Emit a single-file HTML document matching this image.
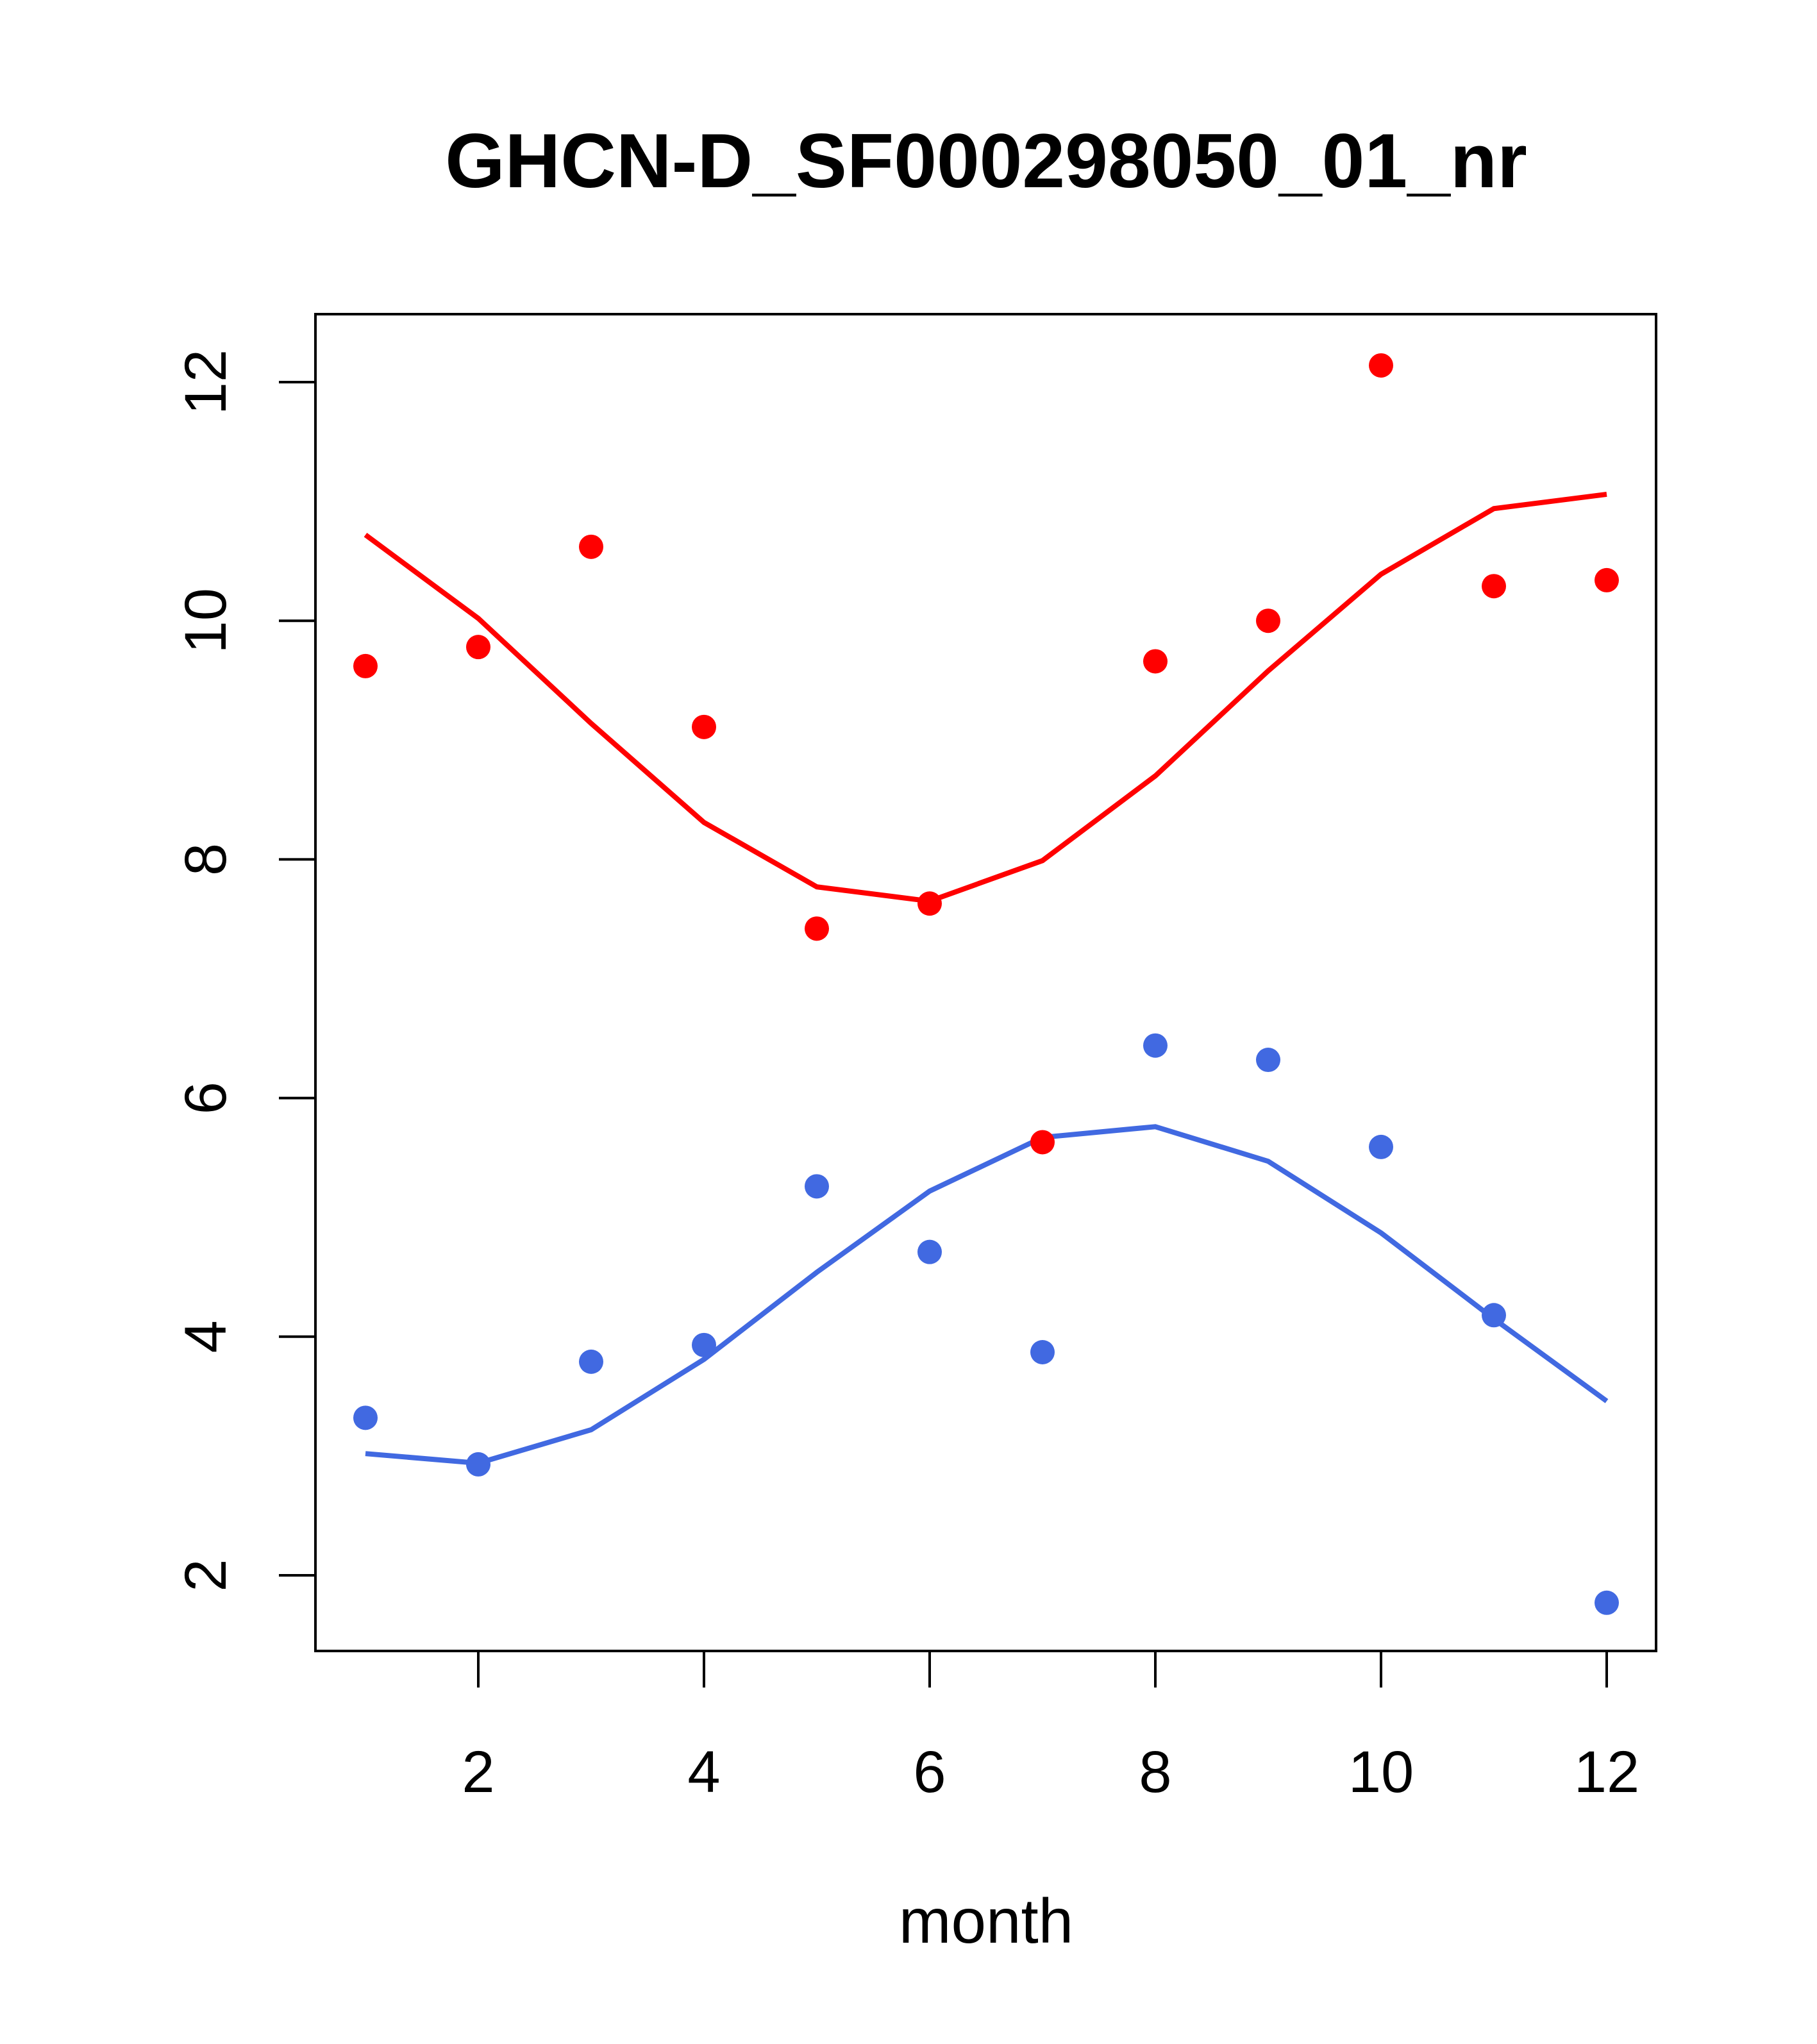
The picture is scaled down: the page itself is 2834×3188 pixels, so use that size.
<!DOCTYPE html>
<html><head><meta charset="utf-8"><style>html,body{margin:0;padding:0;background:#fff}svg{display:block}</style></head>
<body>
<svg id="chart" width="2834" height="3188" xmlns="http://www.w3.org/2000/svg" font-family="Liberation Sans, sans-serif">
<rect width="2834" height="3188" fill="#fff"/>
<text x="1538" y="292" font-size="120" font-weight="bold" text-anchor="middle">GHCN-D_SF000298050_01_nr</text>
<rect x="492" y="490" width="2091" height="2085" fill="none" stroke="#000" stroke-width="4"/>
<text x="1538" y="3030" font-size="98" text-anchor="middle">month</text>
<g id="g"></g>
</svg>
<script>
const months=[1,2,3,4,5,6,7,8,9,10,11,12];
const redPts=[9.62,9.78,10.62,9.11,7.42,7.63,5.63,9.66,10.0,12.14,10.29,10.34];
const redLine=[10.72,10.02,9.14,8.31,7.77,7.65,7.99,8.70,9.58,10.39,10.94,11.06];
const bluePts=[3.32,2.93,3.79,3.93,5.26,4.71,3.87,6.44,6.32,5.59,4.18,1.77];
const blueLine=[3.02,2.94,3.22,3.81,4.54,5.22,5.67,5.76,5.47,4.87,4.15,3.46];
const xTicks=[2,4,6,8,10,12];
const yTicks=[2,4,6,8,10,12];
const NS="http://www.w3.org/2000/svg";
const X=m=>746+(m-2)*176;
const Y=v=>2457-(v-2)*186.1;
const g=document.getElementById('g');
function mk(t,a){const e=document.createElementNS(NS,t);for(const k in a)e.setAttribute(k,a[k]);g.appendChild(e);return e;}
xTicks.forEach(t=>{
 const l=mk('line',{x1:X(t),x2:X(t),y1:2575,y2:2632,stroke:'#000','stroke-width':4});
 
 
 const s=mk('text',{x:X(t),y:2795,'font-size':92,'text-anchor':'middle'});s.textContent=t;
 
 
});
yTicks.forEach(t=>{
 const l=mk('line',{x1:435,x2:492,y1:Y(t),y2:Y(t),stroke:'#000','stroke-width':4});
 
 
 const s=mk('text',{x:352,y:Y(t),'font-size':92,'text-anchor':'middle',transform:`rotate(-90 352 ${Y(t)})`});s.textContent=t;
 
 
});
function line(vals,c,n){const p=mk('polyline',{points:vals.map((v,i)=>X(months[i])+','+Y(v)).join(' '),fill:'none',stroke:c,'stroke-width':8});
 
 }
function pts(vals,c,n){vals.forEach((v,i)=>{const e=mk('circle',{cx:X(months[i]),cy:Y(v),r:19,fill:c});
 
 });}
line(redLine,'#ff0000','red-fit-line');
line(blueLine,'#4169e1','blue-fit-line');
pts(redPts,'#ff0000','red-point');
pts(bluePts,'#4169e1','blue-point');
</script>
</body></html>
